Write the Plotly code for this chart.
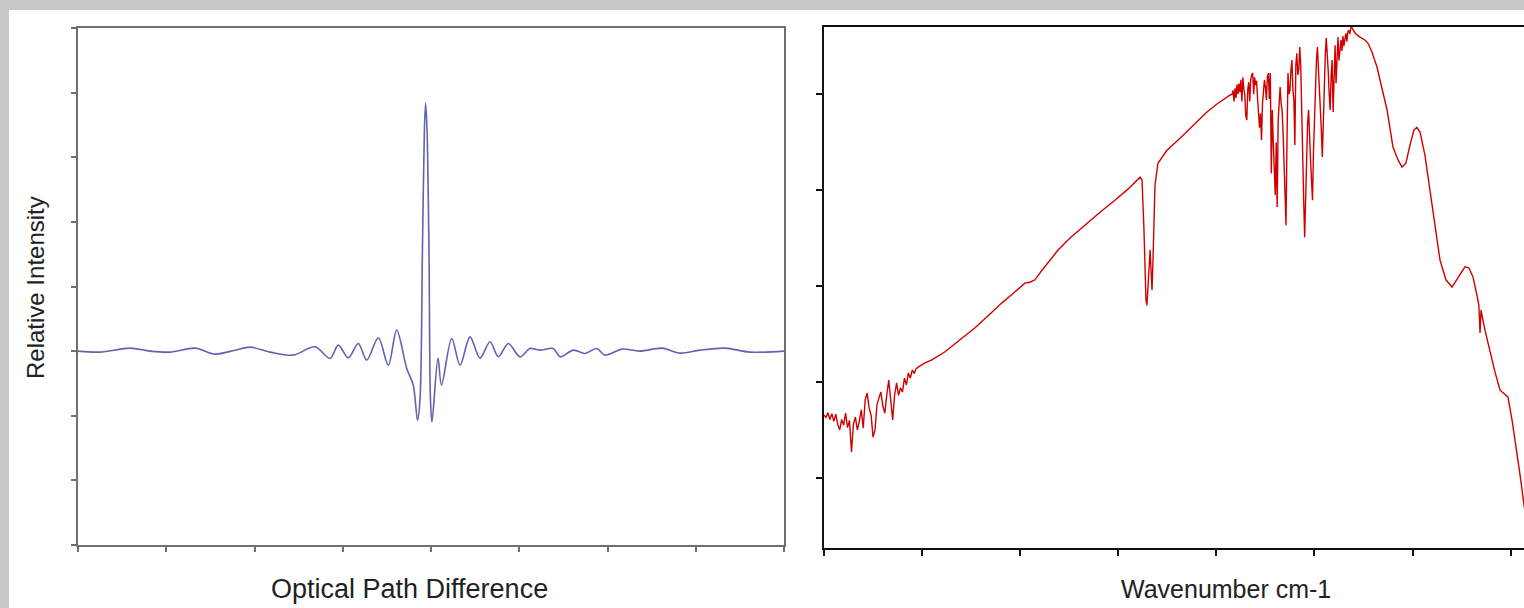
import plotly.graph_objects as go

# ---------------- Left panel: interferogram ----------------
opd = [0, 24.9, 58.9, 81.6, 104.2, 132.6, 155.2, 177.9, 194.9, 217.6, 243.9, 268.6,
       285.6, 295.0, 306.3, 317.6, 327.1, 340.3, 351.6, 361.1, 372.5, 379.9, 384.7,
       387.5, 390.3, 392.5, 393.9, 395.5, 397.7, 399.4, 401.1, 407.9, 411.9, 423.5,
       432.9, 444.2, 455.5, 466.9, 476.3, 487.6, 500.8, 512.2, 523.5, 538.6, 546.2,
       561.3, 574.5, 587.8, 597.2, 616.4, 636.8, 661.8, 682.2, 704.8, 733.1, 761.5, 800]
intensity = [0, -1.5, 4.6, 0, -1.5, 4.6, -4.6, 1.5, 6.2, -1.5, -6.2, 6.7,
             -11.3, 9.3, -10.3, 11.9, -13.9, 20.6, -21.7, 32.5, -26.8, -52.6, -106.8,
             -75.9, 156.3, 342.1, 383.9, 342.1, 156.3, -75.9, -109.9, -10.8, -52.6, 19.6,
             -21.7, 22.1, -10.8, 14.4, -8.8, 11.9, -8.8, 4.1, 1.5, 4.1, -8.8,
             1.5, -3.6, 4.1, -6.2, 3.1, 0, 4.6, -3.1, 1.5, 4.6, -1.5, 0]
opd_ticks = [0, 100, 200, 300, 400, 500, 600, 700, 800]
int_ticks = [-300, -200, -100, 0, 100, 200, 300, 400, 500]

# ---------------- Right panel: single-beam spectrum ----------------
# O-H stretch water-vapour region (noisy)
wn_oh = [4000, 3990, 3980, 3970, 3960, 3950, 3940, 3930, 3920, 3910, 3900, 3890, 3880,
         3870, 3860, 3850, 3840, 3830, 3820, 3810, 3800, 3790, 3780, 3770, 3760, 3750,
         3740, 3730, 3720, 3710, 3700, 3690, 3680, 3670, 3660, 3650, 3640, 3630, 3620,
         3610, 3600, 3590, 3580, 3570, 3560, 3550, 3540, 3530, 3520]
sig_oh = [0.331, 0.326, 0.336, 0.322, 0.334, 0.318, 0.333, 0.312, 0.300, 0.322, 0.310, 0.335, 0.305,
          0.320, 0.254, 0.312, 0.327, 0.300, 0.318, 0.342, 0.304, 0.363, 0.377, 0.346, 0.331, 0.285,
          0.300, 0.352, 0.367, 0.379, 0.350, 0.335, 0.373, 0.404, 0.363, 0.321, 0.373, 0.398, 0.372,
          0.388, 0.379, 0.408, 0.394, 0.419, 0.408, 0.425, 0.418, 0.428, 0.431]
# smooth rise + CO2 band
wn_mid = [3485, 3450, 3383, 3307, 3230, 3154, 3093, 3026, 2976, 2950, 2925, 2889, 2858, 2807,
          2746, 2670, 2593, 2517, 2451, 2389,
          2379, 2369, 2359, 2354, 2343, 2338, 2333, 2328, 2323, 2313, 2298, 2252, 2185, 2109,
          2048, 1992, 1956, 1931]
sig_mid = [0.440, 0.446, 0.463, 0.488, 0.513, 0.542, 0.565, 0.588, 0.606, 0.608, 0.613, 0.633, 0.648, 0.675,
           0.700, 0.727, 0.754, 0.779, 0.802, 0.827,
           0.821, 0.717, 0.571, 0.560, 0.644, 0.675, 0.633, 0.592, 0.654, 0.810, 0.856, 0.883, 0.908, 0.938,
           0.963, 0.981, 0.992, 0.998]
# H-O-H bending water-vapour region (noisy)
wn_hoh = [1920, 1915, 1910, 1905, 1900, 1895, 1890, 1885, 1880, 1875, 1870, 1865, 1860, 1855,
          1850, 1845, 1840, 1835, 1830, 1825, 1820, 1815, 1810, 1805, 1800, 1795, 1790, 1785,
          1780, 1775, 1770, 1765, 1760, 1755, 1750, 1745, 1740, 1735, 1730, 1725, 1720, 1715,
          1710, 1705, 1700, 1695, 1690, 1685, 1680, 1675, 1670, 1665, 1660, 1655, 1650, 1645,
          1640, 1635, 1630, 1625, 1620, 1615, 1610, 1605, 1600, 1595, 1590, 1585, 1580, 1575,
          1570, 1565, 1560, 1555, 1550, 1545, 1540, 1535, 1530, 1525, 1520, 1515, 1510, 1505,
          1500, 1495, 1490, 1485, 1480, 1475, 1470, 1465, 1460, 1455, 1450, 1445, 1440, 1435,
          1430, 1425, 1420, 1415, 1410, 1405, 1400, 1395, 1390, 1385, 1380, 1375, 1370, 1365,
          1360, 1355, 1350, 1345, 1340, 1335, 1330, 1325, 1320, 1315, 1310, 1305, 1300, 1295, 1290]
sig_hoh = [1.000, 1.008, 0.985, 1.012, 0.992, 1.020, 1.000, 1.022, 1.004, 1.030, 0.985, 1.035, 1.010, 0.998,
           0.955, 0.946, 1.010, 1.025, 0.985, 1.030, 1.040, 1.044, 1.000, 1.035, 1.019, 1.028, 0.990, 0.967,
           0.930, 0.960, 0.904, 0.980, 1.008, 1.030, 1.015, 0.988, 1.036, 1.044, 0.990, 1.044, 0.835, 0.967,
           0.900, 0.850, 0.790, 0.900, 0.765, 0.946, 1.000, 1.015, 0.980, 0.967, 0.920, 0.863, 0.800, 0.727,
           0.904, 1.044, 1.000, 1.008, 1.050, 1.071, 1.010, 0.988, 0.894, 1.060, 1.085, 1.040, 1.050, 1.098,
           1.060, 0.946, 0.860, 0.779, 0.702, 0.800, 0.883, 0.940, 0.967, 0.900, 0.863, 0.820, 0.779, 0.880,
           0.946, 1.029, 1.070, 1.098, 1.060, 1.008, 0.960, 0.925, 0.869, 0.950, 1.029, 1.080, 1.117, 1.090,
           1.050, 1.000, 0.967, 1.040, 1.071, 0.963, 1.060, 1.102, 1.023, 1.090, 1.119, 1.070, 1.092, 1.113,
           1.090, 1.121, 1.100, 1.121, 1.127, 1.110, 1.130, 1.133, 1.125, 1.138, 1.140, 1.135, 1.132, 1.129, 1.126]
# fingerprint region, falling edge
wn_low = [1268, 1243, 1227, 1207, 1181, 1156, 1130, 1100, 1074, 1054, 1034, 1013, 993, 978,
          962, 937, 911, 886, 860, 830, 799, 769, 733, 713, 692, 672, 662, 656, 651, 631,
          605, 580, 554, 529, 514, 493, 473, 452, 432, 412]
sig_low = [1.119, 1.113, 1.106, 1.088, 1.056, 1.013, 0.967, 0.890, 0.863, 0.848, 0.856, 0.894, 0.925, 0.931,
           0.921, 0.873, 0.800, 0.727, 0.654, 0.613, 0.598, 0.617, 0.640, 0.638, 0.619, 0.581, 0.560, 0.502,
           0.550, 0.508, 0.460, 0.421, 0.383, 0.373, 0.369, 0.321, 0.269, 0.206, 0.144, 0.092]

wavenumber = wn_oh + wn_mid + wn_hoh + wn_low
signal = sig_oh + sig_mid + sig_hoh + sig_low
wn_ticks = [4000, 3500, 3000, 2500, 2000, 1500, 1000, 500]
sig_ticks = [0.2, 0.4, 0.6, 0.8, 1.0]

W, H = 1524, 608
FONT = "Liberation Sans, Arial, sans-serif"

fig = go.Figure()
fig.add_trace(go.Scatter(x=opd, y=intensity, mode="lines",
                         line=dict(color="#6262b4", width=1.6, shape="spline", smoothing=0.9),
                         xaxis="x", yaxis="y", hoverinfo="skip"))
fig.add_trace(go.Scatter(x=wavenumber, y=signal, mode="lines",
                         line=dict(color="#d00000", width=1.4),
                         xaxis="x2", yaxis="y2", hoverinfo="skip"))

gray = "#6f6f6f"
fig.update_layout(
    width=W, height=H,
    margin=dict(l=0, r=0, t=0, b=0),
    paper_bgcolor="white", plot_bgcolor="white",
    showlegend=False,
    font=dict(family=FONT, color="#222222"),
    xaxis=dict(domain=[78 / W, 784 / W], range=[0, 800], tickvals=opd_ticks,
               showticklabels=False, ticks="outside", ticklen=5, tickwidth=2, tickcolor=gray,
               showline=True, linecolor=gray, linewidth=2, mirror=True,
               showgrid=False, zeroline=False, anchor="y"),
    yaxis=dict(domain=[(H - 545) / H, (H - 28) / H], range=[-300, 500], tickvals=int_ticks,
               showticklabels=False, ticks="outside", ticklen=5, tickwidth=2, tickcolor=gray,
               showline=True, linecolor=gray, linewidth=2, mirror=True,
               showgrid=False, zeroline=False, anchor="x"),
    xaxis2=dict(domain=[824 / W, 1.0], range=[4000, 432], tickvals=wn_ticks,
                showticklabels=False, ticks="outside", ticklen=6, tickwidth=2, tickcolor="#111111",
                showline=True, linecolor="#111111", linewidth=2, mirror=True,
                showgrid=False, zeroline=False, anchor="y2"),
    yaxis2=dict(domain=[(H - 548) / H, (H - 27) / H], range=[0.054, 1.140], tickvals=sig_ticks,
                showticklabels=False, ticks="outside", ticklen=6, tickwidth=2, tickcolor="#111111",
                showline=True, linecolor="#111111", linewidth=2, mirror=False,
                showgrid=False, zeroline=False, anchor="x2"),
    shapes=[
        dict(type="rect", xref="paper", yref="paper", x0=0, x1=1, y0=(H - 10) / H, y1=1,
             fillcolor="#c8c8c8", line=dict(width=0), layer="above"),
        dict(type="rect", xref="paper", yref="paper", x0=0, x1=9 / W, y0=0, y1=1,
             fillcolor="#c8c8c8", line=dict(width=0), layer="above"),
    ],
    annotations=[
        dict(text="Optical Path Difference", xref="paper", yref="paper",
             x=409.5 / W, y=(H - 589) / H, xanchor="center", yanchor="middle",
             showarrow=False, font=dict(size=27, family=FONT, color="#222222")),
        dict(text="Wavenumber cm-1", xref="paper", yref="paper",
             x=1225.5 / W, y=(H - 589) / H, xanchor="center", yanchor="middle",
             showarrow=False, font=dict(size=25, family=FONT, color="#222222")),
        dict(text="Relative Intensity", xref="paper", yref="paper",
             x=35 / W, y=(H - 288) / H, xanchor="center", yanchor="middle", textangle=-90,
             showarrow=False, font=dict(size=24, family=FONT, color="#222222")),
    ],
)

fig.write_html("out.html", config={"displayModeBar": False},
               post_script="document.body.style.margin='0';document.body.style.overflow='hidden';")
